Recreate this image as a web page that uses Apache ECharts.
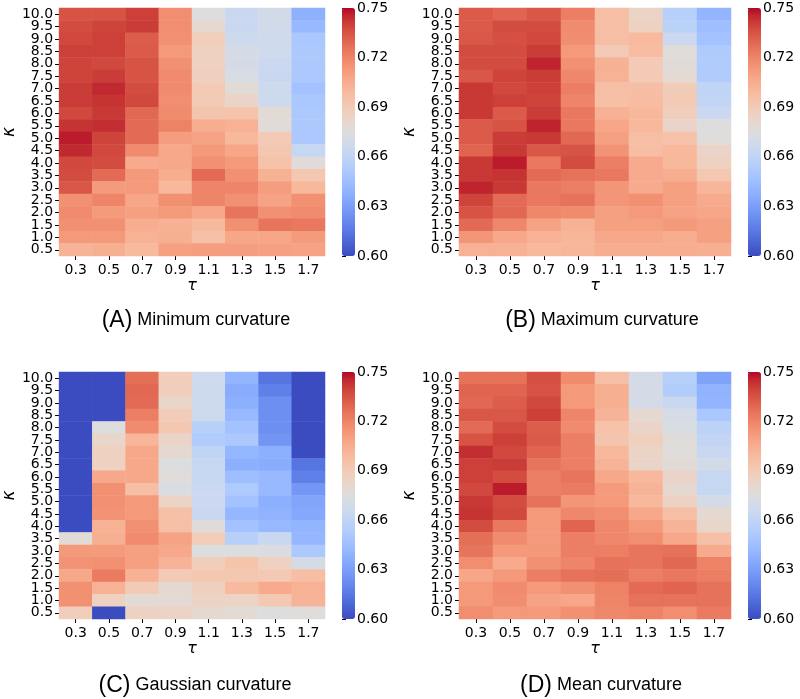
<!DOCTYPE html>
<html><head><meta charset="utf-8">
<script src="https://cdn.jsdelivr.net/npm/echarts@6/dist/echarts.min.js"></script>
<style>html,body{margin:0;padding:0;background:#fff}#c{width:800px;height:699px}</style>
</head><body><div id="c"></div>
<script>
const tauLabels = ['0.3','0.5','0.7','0.9','1.1','1.3','1.5','1.7'];
const kappaLabels = ['0.5','1.0','1.5','2.0','2.5','3.0','3.5','4.0','4.5','5.0','5.5','6.0','6.5','7.0','7.5','8.0','8.5','9.0','9.5','10.0'];
const cbarTicks = [0.60,0.63,0.66,0.69,0.72,0.75];
const titlesLetter = ['(A)','(B)','(C)','(D)'];
const titlesText = ['Minimum curvature','Maximum curvature','Gaussian curvature','Mean curvature'];

// rows listed from kappa = 10.0 (top) down to 0.5 (bottom); columns tau 0.3 .. 1.7
const minCurvature = [
[0.735,0.735,0.740,0.717,0.675,0.664,0.669,0.638],
[0.737,0.739,0.741,0.717,0.680,0.664,0.668,0.642],
[0.738,0.740,0.732,0.716,0.688,0.666,0.667,0.650],
[0.740,0.740,0.733,0.713,0.686,0.670,0.667,0.651],
[0.739,0.738,0.735,0.716,0.686,0.670,0.665,0.651],
[0.739,0.741,0.735,0.718,0.687,0.672,0.664,0.651],
[0.741,0.745,0.737,0.718,0.690,0.678,0.666,0.647],
[0.741,0.743,0.738,0.717,0.690,0.683,0.666,0.650],
[0.738,0.742,0.729,0.718,0.693,0.694,0.678,0.651],
[0.743,0.744,0.728,0.721,0.705,0.703,0.677,0.651],
[0.747,0.739,0.728,0.711,0.709,0.700,0.690,0.651],
[0.745,0.738,0.718,0.707,0.713,0.708,0.692,0.663],
[0.738,0.737,0.706,0.707,0.716,0.713,0.695,0.677],
[0.737,0.728,0.713,0.705,0.728,0.716,0.703,0.692],
[0.734,0.712,0.713,0.700,0.720,0.720,0.711,0.700],
[0.716,0.720,0.708,0.716,0.720,0.716,0.709,0.716],
[0.718,0.712,0.710,0.713,0.707,0.725,0.716,0.718],
[0.716,0.716,0.705,0.703,0.699,0.716,0.725,0.724],
[0.713,0.713,0.703,0.704,0.696,0.708,0.708,0.712],
[0.702,0.704,0.699,0.710,0.711,0.711,0.710,0.709]
];
const maxCurvature = [
[0.733,0.730,0.734,0.722,0.697,0.684,0.656,0.640],
[0.733,0.737,0.737,0.718,0.697,0.686,0.657,0.645],
[0.734,0.736,0.738,0.717,0.697,0.699,0.665,0.647],
[0.737,0.737,0.741,0.713,0.690,0.698,0.676,0.652],
[0.737,0.737,0.746,0.716,0.703,0.690,0.677,0.653],
[0.734,0.739,0.741,0.719,0.703,0.690,0.679,0.653],
[0.742,0.738,0.740,0.722,0.697,0.697,0.689,0.660],
[0.742,0.740,0.739,0.720,0.696,0.698,0.690,0.661],
[0.742,0.733,0.741,0.724,0.703,0.700,0.688,0.665],
[0.733,0.735,0.746,0.724,0.708,0.700,0.683,0.675],
[0.733,0.741,0.742,0.729,0.710,0.697,0.695,0.676],
[0.730,0.742,0.734,0.735,0.715,0.697,0.700,0.683],
[0.742,0.747,0.724,0.737,0.722,0.706,0.700,0.686],
[0.742,0.743,0.728,0.726,0.724,0.706,0.705,0.692],
[0.746,0.742,0.724,0.722,0.714,0.706,0.710,0.701],
[0.739,0.728,0.724,0.726,0.714,0.716,0.710,0.706],
[0.735,0.729,0.719,0.718,0.710,0.713,0.709,0.708],
[0.728,0.719,0.709,0.703,0.710,0.710,0.713,0.710],
[0.714,0.707,0.703,0.701,0.707,0.707,0.705,0.710],
[0.703,0.703,0.700,0.701,0.705,0.705,0.705,0.704]
];
const gaussCurvature = [
[0.600,0.600,0.727,0.688,0.667,0.640,0.614,0.600],
[0.600,0.600,0.729,0.688,0.666,0.636,0.618,0.600],
[0.600,0.600,0.728,0.682,0.666,0.637,0.624,0.600],
[0.600,0.600,0.722,0.689,0.666,0.642,0.624,0.600],
[0.600,0.675,0.718,0.692,0.656,0.647,0.624,0.600],
[0.600,0.682,0.701,0.683,0.653,0.651,0.626,0.600],
[0.600,0.686,0.707,0.680,0.660,0.641,0.637,0.600],
[0.600,0.686,0.707,0.674,0.663,0.637,0.636,0.614],
[0.600,0.707,0.707,0.676,0.663,0.645,0.642,0.618],
[0.600,0.716,0.697,0.672,0.665,0.652,0.642,0.627],
[0.600,0.716,0.713,0.684,0.665,0.647,0.637,0.633],
[0.600,0.715,0.713,0.696,0.664,0.641,0.639,0.634],
[0.600,0.703,0.716,0.697,0.677,0.647,0.642,0.640],
[0.678,0.704,0.718,0.709,0.689,0.656,0.664,0.641],
[0.713,0.712,0.710,0.707,0.674,0.674,0.673,0.651],
[0.715,0.716,0.710,0.702,0.688,0.694,0.686,0.670],
[0.707,0.723,0.703,0.690,0.692,0.692,0.691,0.697],
[0.716,0.703,0.690,0.680,0.687,0.699,0.706,0.703],
[0.716,0.686,0.678,0.679,0.684,0.684,0.691,0.702],
[0.688,0.600,0.685,0.684,0.680,0.678,0.675,0.676]
];
const meanCurvature = [
[0.726,0.726,0.736,0.718,0.697,0.670,0.656,0.632],
[0.730,0.730,0.735,0.713,0.704,0.670,0.654,0.639],
[0.729,0.732,0.738,0.713,0.704,0.670,0.664,0.640],
[0.734,0.734,0.740,0.720,0.702,0.680,0.671,0.650],
[0.728,0.737,0.732,0.718,0.695,0.683,0.672,0.658],
[0.735,0.740,0.733,0.722,0.693,0.687,0.676,0.661],
[0.744,0.738,0.730,0.722,0.700,0.684,0.676,0.664],
[0.740,0.741,0.725,0.722,0.702,0.683,0.678,0.669],
[0.740,0.737,0.722,0.725,0.707,0.700,0.683,0.663],
[0.738,0.747,0.722,0.723,0.712,0.702,0.680,0.663],
[0.742,0.737,0.726,0.714,0.713,0.700,0.685,0.670],
[0.743,0.738,0.713,0.719,0.717,0.707,0.697,0.680],
[0.737,0.724,0.713,0.730,0.719,0.713,0.702,0.682],
[0.727,0.718,0.713,0.722,0.719,0.717,0.707,0.696],
[0.725,0.713,0.713,0.722,0.722,0.725,0.726,0.706],
[0.717,0.706,0.716,0.720,0.726,0.725,0.729,0.721],
[0.708,0.713,0.722,0.726,0.727,0.722,0.724,0.722],
[0.713,0.718,0.713,0.716,0.721,0.728,0.730,0.726],
[0.713,0.717,0.709,0.708,0.720,0.726,0.726,0.726],
[0.717,0.713,0.713,0.716,0.719,0.721,0.717,0.723]
];
const panels = [minCurvature, maxCurvature, gaussCurvature, meanCurvature];

const coolwarm = ['#3b4cc0','#445acc','#4d68d7','#5775e1','#6282ea','#6c8ef1','#779af7','#82a5fb','#8db0fe','#98b9ff','#a3c2ff','#aec9fd','#b8d0f9','#c2d5f4','#ccd9ee','#d5dbe6','#dddddd','#e5d8d1','#ecd3c5','#f1ccb8','#f5c4ac','#f7bba0','#f7b194','#f7a689','#f49a7b','#f18d6f','#ec7f63','#e57058','#de604d','#d55042','#cb3e38','#c0282f','#b40426'];

const vmin = 0.60, vmax = 0.75;
const rects = [
  {l:54, t:8, w:271, h:248, cb:342},
  {l:459, t:8, w:272, h:248, cb:748},
  {l:54, t:372, w:271, h:247, cb:342},
  {l:459, t:372, w:272, h:247, cb:748}
];
const titlePos = [{x:191,y:304},{x:597,y:304},{x:190,y:669},{x:596,y:669}];
const tickFont = {fontFamily:'DejaVu Sans', fontSize:14, color:'#000'};

const grid = [], xAxis = [], yAxis = [], series = [], visualMap = [], title = [];
panels.forEach((rows, p) => {
  const r = rects[p];
  grid.push({left:r.l, top:r.t, width:r.w, height:r.h, containLabel:false});
  xAxis.push({type:'category', gridIndex:p, data:tauLabels, name:'τ', nameLocation:'middle', nameGap:21,
    nameTextStyle:{fontFamily:'DejaVu Sans', fontSize:16, fontStyle:'italic', color:'#000'},
    axisLine:{show:false}, axisTick:{show:true, alignWithLabel:true, length:4, lineStyle:{color:'#000'}},
    axisLabel:Object.assign({interval:0, margin:7}, tickFont), splitLine:{show:false}, splitArea:{show:false}});
  yAxis.push({type:'category', gridIndex:p, data:kappaLabels, name:'κ', nameLocation:'middle', nameGap:36, nameRotate:90,
    nameTextStyle:{fontFamily:'DejaVu Sans', fontSize:17, fontStyle:'italic', color:'#000'},
    axisLine:{show:false}, axisTick:{show:true, alignWithLabel:true, length:4, lineStyle:{color:'#000'}},
    axisLabel:Object.assign({interval:0, margin:6}, tickFont), splitLine:{show:false}, splitArea:{show:false}});
  const data = [];
  rows.forEach((row, i) => {
    const yi = kappaLabels.length - 1 - i;
    row.forEach((v, xi) => data.push([xi, yi, v]));
  });
  series.push({type:'heatmap', xAxisIndex:p, yAxisIndex:p, data:data, emphasis:{disabled:true}, progressive:0, animation:false});
  visualMap.push({type:'continuous', seriesIndex:p, min:vmin, max:vmax, calculable:false, show:true,
    left:r.cb, top:r.t, itemWidth:13, itemHeight:r.h, padding:0, text:null, showLabel:false, hoverLink:false,
    inRange:{color:coolwarm}});
  title.push({text:'{p|' + titlesLetter[p] + '} {t|' + titlesText[p] + '}', left:titlePos[p].x, top:titlePos[p].y, textAlign:'center',
    textStyle:{fontWeight:'normal', rich:{p:{fontFamily:'Liberation Sans', fontWeight:'normal', fontSize:23, color:'#000'}, t:{fontFamily:'Liberation Sans', fontWeight:'normal', fontSize:18, color:'#000'}}}});
});
// colorbar axes
rects.forEach((r, p) => {
  const gi = grid.length;
  grid.push({left:r.cb, top:r.t, width:13, height:r.h});
  xAxis.push({type:'value', gridIndex:gi, show:false, min:0, max:1});
  yAxis.push({type:'value', gridIndex:gi, position:'right', min:vmin, max:vmax, interval:0.03,
    axisLine:{show:false}, splitLine:{show:false}, axisTick:{show:true, length:4, lineStyle:{color:'#000'}},
    axisLabel:Object.assign({margin:2, formatter: v => v.toFixed(2)}, tickFont)});
  series.push({type:'scatter', xAxisIndex:gi, yAxisIndex:gi, data:[], silent:true});
});

const chart = echarts.init(document.getElementById('c'), null, {renderer:'canvas'});
chart.setOption({animation:false, backgroundColor:'#fff', title, grid, xAxis, yAxis, series, visualMap});
</script></body></html>
